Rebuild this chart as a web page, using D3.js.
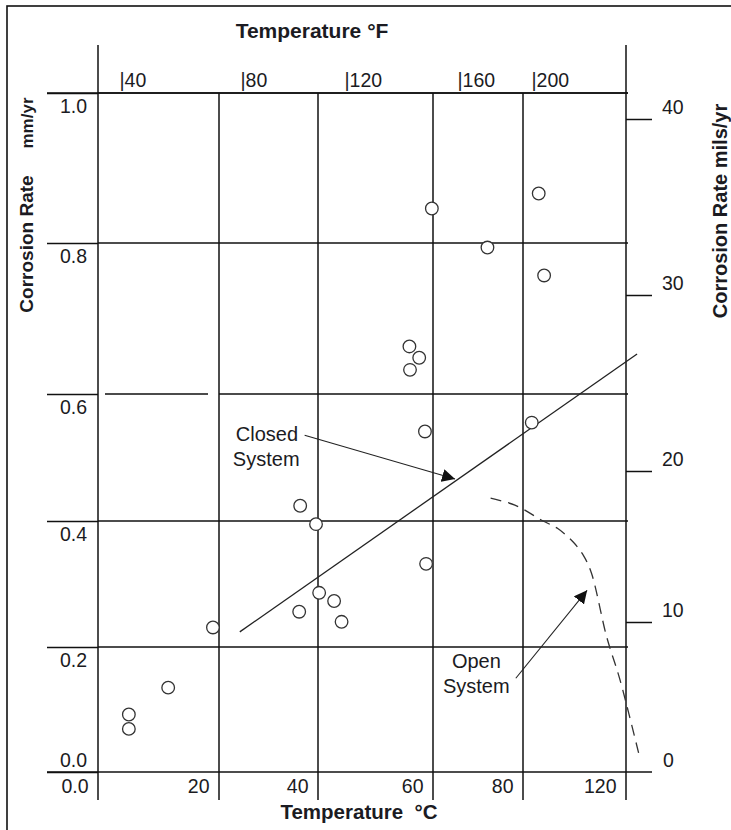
<!DOCTYPE html>
<html>
<head>
<meta charset="utf-8">
<script src="https://cdn.jsdelivr.net/npm/d3@7"></script>
<style>
  body { margin: 0; background: #fff; }
  svg { display: block; font-family: "Liberation Sans", Arial, sans-serif; }
  .tick line { stroke: #111; stroke-width: 1.5; }
  .tick text { fill: #1b1b22; font-size: 19.5px; }
</style>
</head>
<body>
<script>
// tick values on the four axes
const celsiusTicks = [0, 20, 40, 60, 80, 120];
const celsiusLabels = ['0.0', '20', '40', '60', '80', '120'];
const mmTicks = [0, 0.2, 0.4, 0.6, 0.8, 1.0];
const milsTicks = [0, 10, 20, 30, 40];
const fahrenheitTicks = [40, 80, 120, 160, 200];

// measured points: temperature (°C) and corrosion rate (mm/yr)
const pointTemp = [59.8, 86.1, 72.1, 88.2, 55.9, 57.6, 56.0, 58.6, 83.4, 36.4, 39.6, 58.8, 19.0, 36.2, 40.2, 42.8, 44.1, 11.6, 5.1, 5.1];
const pointRate = [0.846, 0.866, 0.794, 0.757, 0.663, 0.648, 0.632, 0.541, 0.555, 0.424, 0.395, 0.332, 0.231, 0.256, 0.286, 0.273, 0.240, 0.135, 0.092, 0.069];

// closed system trend line
const closedTemp = [24.2, 124.3];
const closedRate = [0.224, 0.653];

// open system curve (dashed)
const openTemp = [72.8, 78.2, 87.8, 93.5, 99.4, 103.5, 106.6, 112.5, 117.7, 125.4];
const openRate = [0.436, 0.425, 0.400, 0.388, 0.367, 0.345, 0.317, 0.216, 0.147, 0.022];

const svgWidth = 731;
const svgHeight = 830;

const svg = d3.select('body').append('svg')
  .attr('width', svgWidth)
  .attr('height', svgHeight);

// the grid was drawn by hand, so the spacing is uneven -> piecewise scales
const x = d3.scaleLinear().domain(celsiusTicks).range([98, 219, 318, 433, 523, 626]);
const y = d3.scaleLinear().domain(mmTicks).range([772, 647, 521, 394, 243, 93]);
const yMils = d3.scaleLinear().domain(milsTicks).range([772, 622, 471, 295, 119]);
const xF = d3.scaleLinear().domain(fahrenheitTicks).range([119, 240, 344, 457, 531]);

const plotLeft = x(0), plotRight = x(120), plotTop = y(1), plotBottom = y(0);

svg.append('defs').append('marker')
  .attr('id', 'arrow')
  .attr('viewBox', '0 0 10 10')
  .attr('refX', 10).attr('refY', 5)
  .attr('markerWidth', 13).attr('markerHeight', 13)
  .attr('markerUnits', 'userSpaceOnUse')
  .attr('orient', 'auto')
  .append('path')
  .attr('d', 'M0,0L10,5L0,10z')
  .attr('fill', '#111');

// outer frame (runs off the bottom/right of the picture)
svg.append('rect')
  .attr('x', 7).attr('y', 6)
  .attr('width', 800).attr('height', 900)
  .attr('fill', 'none').attr('stroke', '#111').attr('stroke-width', 1.6);

// horizontal grid
svg.append('g').selectAll('line')
  .data(mmTicks.filter(d => d > 0))
  .join('line')
  .attr('x1', plotLeft).attr('x2', plotRight + 2)
  .attr('y1', d => y(d)).attr('y2', d => y(d))
  .attr('stroke', '#111').attr('stroke-width', 1.5)
  .attr('stroke-dasharray', d => d === 0.6 ? '0,7,103,11,1000' : null);

// vertical grid, running down as ticks under the bottom axis
svg.append('g').selectAll('line')
  .data(celsiusTicks)
  .join('line')
  .attr('x1', d => x(d)).attr('x2', d => x(d))
  .attr('y1', d => (d === 0 || d === 120) ? 45 : plotTop)
  .attr('y2', 800)
  .attr('stroke', '#111').attr('stroke-width', 1.5);

// bottom axis (°C)
const xAxis = svg.append('g')
  .attr('transform', `translate(0, ${plotBottom})`)
  .call(d3.axisBottom(x).tickValues(celsiusTicks).tickSize(0)
    .tickFormat((d, i) => celsiusLabels[i]));
xAxis.select('.domain').remove();
xAxis.selectAll('text')
  .attr('text-anchor', 'end').attr('x', -10).attr('y', 21).attr('dy', 0);
svg.append('line')
  .attr('x1', 47).attr('x2', 652)
  .attr('y1', plotBottom).attr('y2', plotBottom)
  .attr('stroke', '#111').attr('stroke-width', 1.5);

// left axis (mm/yr)
const yAxis = svg.append('g')
  .attr('transform', `translate(${plotLeft}, 0)`)
  .call(d3.axisLeft(y).tickValues(mmTicks).tickSize(51).tickFormat(d3.format('.1f')));
yAxis.select('.domain').remove();
yAxis.selectAll('text')
  .attr('text-anchor', 'end').attr('x', -11).attr('dy', 0)
  .attr('y', d => d === 0 ? -6 : 19);

// right axis (mils/yr)
const milsAxis = svg.append('g')
  .attr('transform', `translate(${plotRight}, 0)`)
  .call(d3.axisRight(yMils).tickValues(milsTicks).tickSize(26));
milsAxis.select('.domain').remove();
milsAxis.selectAll('.tick line').attr('opacity', d => d === 0 ? 0 : 1);
milsAxis.selectAll('text')
  .attr('text-anchor', 'start').attr('x', d => d === 0 ? 37 : 36).attr('y', -6).attr('dy', 0);

// top axis (°F)
const fAxis = svg.append('g')
  .attr('transform', `translate(0, ${plotTop})`)
  .call(d3.axisTop(xF).tickValues(fahrenheitTicks).tickSize(0).tickFormat(d => '|' + d));
fAxis.select('.domain').remove();
fAxis.selectAll('text')
  .attr('text-anchor', 'start').attr('x', 0).attr('y', -6).attr('dy', 0);
svg.append('line')
  .attr('x1', 47).attr('x2', plotRight + 2)
  .attr('y1', plotTop).attr('y2', plotTop)
  .attr('stroke', '#111').attr('stroke-width', 1.5);

// axis titles
const title = svg.append('g')
  .attr('font-weight', 'bold').attr('fill', '#1b1b22');
title.append('text')
  .attr('x', 312).attr('y', 38).attr('text-anchor', 'middle')
  .attr('font-size', 21)
  .text('Temperature °F');
title.append('text')
  .attr('x', 359).attr('y', 819).attr('text-anchor', 'middle')
  .attr('font-size', 20.5)
  .attr('xml:space', 'preserve')
  .text('Temperature  °C');
title.append('text')
  .attr('transform', 'translate(33, 244) rotate(-90)')
  .attr('text-anchor', 'middle')
  .attr('font-size', 19)
  .text('Corrosion Rate');
title.append('text')
  .attr('transform', 'translate(33, 123) rotate(-90)')
  .attr('text-anchor', 'middle')
  .attr('font-size', 17)
  .text('mm/yr');
title.append('text')
  .attr('transform', 'translate(727, 211) rotate(-90)')
  .attr('text-anchor', 'middle')
  .attr('font-size', 20)
  .text('Corrosion Rate mils/yr');

// closed system line
svg.append('path')
  .datum(d3.zip(closedTemp, closedRate))
  .attr('d', d3.line().x(d => x(d[0])).y(d => y(d[1])))
  .attr('fill', 'none').attr('stroke', '#222').attr('stroke-width', 1.3);

// open system curve
svg.append('path')
  .datum(d3.zip(openTemp, openRate))
  .attr('d', d3.line().x(d => x(d[0])).y(d => y(d[1])).curve(d3.curveCatmullRom))
  .attr('fill', 'none').attr('stroke', '#333').attr('stroke-width', 1.3)
  .attr('stroke-dasharray', '11,7');

// data points
svg.append('g').selectAll('circle')
  .data(d3.zip(pointTemp, pointRate))
  .join('circle')
  .attr('cx', d => x(d[0]))
  .attr('cy', d => y(d[1]))
  .attr('r', 6.3)
  .attr('fill', '#fff')
  .attr('stroke', '#333')
  .attr('stroke-width', 1.3);

// annotations
const note = svg.append('g').attr('font-size', 20).attr('fill', '#1b1b22');
note.append('text').attr('x', x(23.4)).attr('y', y(0.526)).text('Closed');
note.append('text').attr('x', x(22.8)).attr('y', y(0.487)).text('System');
note.append('line')
  .attr('x1', x(37.3)).attr('y1', y(0.535))
  .attr('x2', x(64.9)).attr('y2', y(0.466))
  .attr('stroke', '#222').attr('stroke-width', 1.1)
  .attr('marker-end', 'url(#arrow)');

note.append('text').attr('x', x(64.2)).attr('y', y(0.166)).text('Open');
note.append('text').attr('x', x(62.2)).attr('y', y(0.127)).text('System');
note.append('line')
  .attr('x1', x(78.4)).attr('y1', y(0.150))
  .attr('x2', x(104.9)).attr('y2', y(0.290))
  .attr('stroke', '#222').attr('stroke-width', 1.1)
  .attr('marker-end', 'url(#arrow)');
</script>
</body>
</html>
